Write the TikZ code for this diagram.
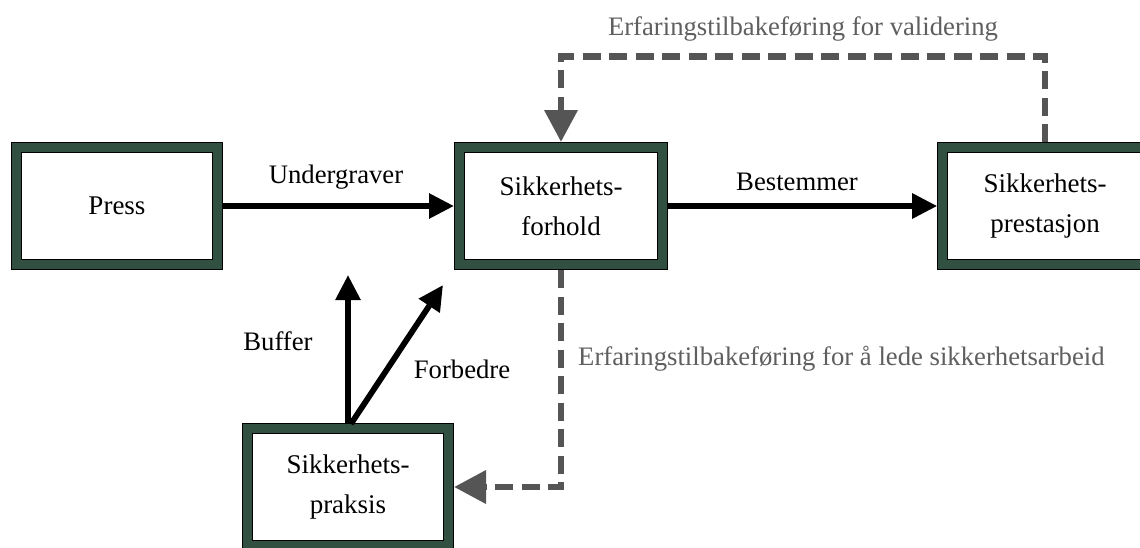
\documentclass[tikz,border=0pt]{standalone}
\usepackage{fontspec}
\setmainfont{Liberation Serif}
\usetikzlibrary{arrows.meta}
\definecolor{boxgreen}{RGB}{50,80,66}
\definecolor{fbgray}{RGB}{85,85,85}
\definecolor{lblgray}{RGB}{95,95,95}
\begin{document}
\begin{tikzpicture}[x=1pt,y=-1pt,
  box/.style={draw=black, line width=0.8pt, double=boxgreen, double distance=9pt,
    fill=white, minimum height=117.4pt, inner sep=0pt, outer sep=0pt,
    align=center, font=\fontsize{27}{40}\selectfont},
  blk/.style={draw=black, line width=5.8pt, -{Triangle[length=25pt,width=24pt]}},
  fb/.style={draw=fbgray, line width=6.7pt, dash pattern=on 18pt off 8.5pt,
    -{Triangle[length=32pt,width=32pt]}},
  lbl/.style={font=\fontsize{26.7}{32}\selectfont, inner sep=0pt},
  glbl/.style={lbl, text=lblgray}]
\useasboundingbox (0,0) rectangle (1140,547);
\fill[white] (0,0) rectangle (1140,547);

\node[box, minimum width=201.4pt] (press) at (117,206) {Press};
\node[box, minimum width=203.4pt] (forhold) at (561,206) {Sikkerhets-\\forhold};
\node[box, minimum width=205pt] (prest) at (1045,206) {Sikkerhets-\\prestasjon};
\node[box, minimum width=201.4pt] (praksis) at (348,487) {Sikkerhets-\\praksis};

\draw[blk, shorten <=5.3pt, shorten >=5.3pt] (press.east) -- (forhold.west);
\draw[blk, shorten <=5.3pt, shorten >=5.3pt] (forhold.east) -- (prest.west);

\coordinate (buftip) at (348,275);
\coordinate (fortip) at (443,285);
\draw[blk, shorten <=5.3pt] (praksis.north) -- (buftip);
\draw[blk, shorten <=5.3pt] (praksis.north) -- (fortip);

\coordinate (topy) at (0,56.5);
\draw[fb, shorten <=5.3pt, shorten >=5.3pt] (prest.north) -- (prest.north |- topy) -- (forhold.north |- topy) -- (forhold.north);
\draw[fb, shorten <=5.3pt, shorten >=5.3pt] (forhold.south) |- (praksis.east);

\node[lbl] (lund) at (336,177) {Undergraver};
\node[lbl] (lbest) at (797,182) {Bestemmer};
\node[lbl] (lbuf) at (278,341) {Buffer};
\node[lbl] (lforb) at (462,369) {Forbedre};
\node[glbl] (lval) at (803,29) {Erfaringstilbakeføring for validering};
\node[glbl, anchor=west] (llede) at (578,359) {Erfaringstilbakeføring for å lede sikkerhetsarbeid};
\end{tikzpicture}
\end{document}
